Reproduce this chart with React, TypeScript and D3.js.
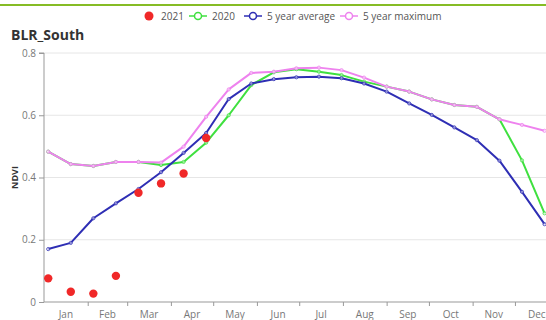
import * as React from "react";
import * as d3 from "d3";

// 16-day composite dates (2021 calendar)
const dates = [
    "2021-01-04", "2021-01-20", "2021-02-05", "2021-02-21", "2021-03-09", "2021-03-25",
    "2021-04-10", "2021-04-26", "2021-05-12", "2021-05-28", "2021-06-13", "2021-06-29",
    "2021-07-15", "2021-07-31", "2021-08-16", "2021-09-01", "2021-09-17", "2021-10-03",
    "2021-10-19", "2021-11-04", "2021-11-20", "2021-12-06", "2021-12-22",
];

const ndvi2021 = [0.076, 0.033, 0.027, 0.084, 0.351, 0.381, 0.413, 0.527];

const ndvi2020 = [
    0.483, 0.443, 0.437, 0.45, 0.45, 0.44, 0.45, 0.512, 0.6, 0.697, 0.738, 0.748,
    0.74, 0.729, 0.708, 0.692, 0.676, 0.651, 0.633, 0.627, 0.587, 0.455, 0.285,
];

const avg5 = [
    0.17, 0.19, 0.269, 0.317, 0.363, 0.417, 0.479, 0.543, 0.652, 0.702, 0.716, 0.722,
    0.724, 0.719, 0.702, 0.676, 0.638, 0.601, 0.561, 0.52, 0.454, 0.354, 0.25,
];

const max5 = [
    0.483, 0.443, 0.437, 0.45, 0.45, 0.448, 0.499, 0.595, 0.683, 0.736, 0.74, 0.751,
    0.753, 0.745, 0.721, 0.692, 0.676, 0.651, 0.633, 0.627, 0.587, 0.569, 0.55,
];

const monthLabels = ["Jan", "Feb", "Mar", "Apr", "May", "Jun", "Jul", "Aug", "Sep", "Oct", "Nov", "Dec"];
const yTicks = [0, 0.2, 0.4, 0.6, 0.8];

const COLORS = {
    y2021: "#f02828",
    y2020: "#3fe03f",
    avg: "#2e2eb4",
    max: "#ee82ee",
};

const FONT = "'Open Sans', 'DejaVu Sans', sans-serif";

const App: React.FC = () => {
    const svgRef = React.useRef<SVGSVGElement | null>(null);

    React.useEffect(() => {
        if (!svgRef.current) return;
        const svg = d3.select(svgRef.current);
        svg.selectAll("*").remove();

        const width = 546;
        const left = 44;
        const top = 53;
        const bottom = 302;
        const parse = d3.timeParse("%Y-%m-%d");
        const xDates = dates.map(d => parse(d)!);

        const x = d3.scaleTime()
            .domain([new Date(2021, 0, 1), new Date(2022, 0, 1)])
            .range([left, left + 365 * 1.41]);

        const y = d3.scaleLinear()
            .domain([0, 0.8])
            .range([bottom, top]);

        // top green rule
        svg.append("rect")
            .attr("x", 0).attr("y", 4)
            .attr("width", width).attr("height", 2)
            .attr("fill", "#86bc25");

        // title
        svg.append("text")
            .attr("x", 11).attr("y", 40)
            .attr("font-family", FONT)
            .attr("font-size", 14)
            .attr("font-weight", "bold")
            .attr("fill", "#333")
            .text("BLR_South");

        // gridlines
        svg.append("g")
            .selectAll("line")
            .data(yTicks.filter(t => t > 0))
            .enter().append("line")
            .attr("x1", left).attr("x2", width)
            .attr("y1", d => y(d)).attr("y2", d => y(d))
            .attr("stroke", "#e6e6e6");

        // y axis
        const yAxis = svg.append("g")
            .attr("transform", `translate(${left},0)`)
            .call(d3.axisLeft(y).tickValues(yTicks).tickSize(5).tickPadding(3)
                .tickFormat(d => (d === 0 ? "0" : d3.format(".1f")(d as number))));
        yAxis.select(".domain").attr("stroke", "#999").attr("d", `M-5,${top}H0V${bottom}`);
        yAxis.selectAll(".tick line").attr("stroke", "#999");
        yAxis.selectAll("text").attr("fill", "#777").attr("font-size", 10).attr("font-family", FONT);

        // x axis
        const xAxis = svg.append("g")
            .attr("transform", `translate(0,${bottom})`)
            .call(d3.axisBottom(x).ticks(d3.timeMonth.every(1)).tickSize(4).tickFormat(() => ""));
        xAxis.select(".domain").attr("stroke", "#999").attr("d", `M${left},0H${width}`);
        xAxis.selectAll(".tick line").attr("stroke", "#999");
        xAxis.selectAll(".tick").filter((d: any) => d.getMonth() === 0 && d.getFullYear() === 2021).remove();

        const months = d3.timeMonth.range(new Date(2021, 0, 1), new Date(2022, 0, 1));
        svg.append("g")
            .selectAll("text")
            .data(months)
            .enter().append("text")
            .attr("x", d => (x(d) + x(d3.timeMonth.offset(d, 1))) / 2)
            .attr("y", bottom + 16)
            .attr("text-anchor", "middle")
            .attr("font-family", FONT)
            .attr("font-size", 10)
            .attr("fill", "#777")
            .text((d, i) => monthLabels[i]);

        // y label
        svg.append("text")
            .attr("transform", `translate(18,${(top + bottom) / 2}) rotate(-90)`)
            .attr("text-anchor", "middle")
            .attr("font-family", FONT)
            .attr("font-size", 9)
            .attr("font-weight", "bold")
            .attr("fill", "#333")
            .text("NDVI");

        const line = d3.line<number>()
            .x((d, i) => x(xDates[i]))
            .y(d => y(d));

        const lineSeries = [
            { values: ndvi2020, color: COLORS.y2020 },
            { values: avg5, color: COLORS.avg },
            { values: max5, color: COLORS.max },
        ];

        lineSeries.forEach(s => {
            const g = svg.append("g");
            g.append("path")
                .datum(s.values)
                .attr("d", line)
                .attr("fill", "none")
                .attr("stroke", s.color)
                .attr("stroke-width", 2)
                .attr("stroke-linejoin", "round");
            g.selectAll("circle")
                .data(s.values)
                .enter().append("circle")
                .attr("cx", (d, i) => x(xDates[i]))
                .attr("cy", d => y(d))
                .attr("r", 1.6)
                .attr("fill", "#fff")
                .attr("fill-opacity", 0.45)
                .attr("stroke", s.color)
                .attr("stroke-width", 0.8);
        });

        svg.append("g")
            .selectAll("circle")
            .data(ndvi2021)
            .enter().append("circle")
            .attr("cx", (d, i) => x(xDates[i]))
            .attr("cy", d => y(d))
            .attr("r", 4.2)
            .attr("fill", COLORS.y2021);

        // legend
        const legendItems = [
            { name: "2021", color: COLORS.y2021, dot: true, x: 149 },
            { name: "2020", color: COLORS.y2020, dot: false, x: 198 },
            { name: "5 year average", color: COLORS.avg, dot: false, x: 253 },
            { name: "5 year maximum", color: COLORS.max, dot: false, x: 349 },
        ];
        const legend = svg.append("g").attr("transform", "translate(0,16)");
        legendItems.forEach(item => {
            const g = legend.append("g").attr("transform", `translate(${item.x},0)`);
            if (item.dot) {
                g.append("circle").attr("r", 4.5).attr("fill", item.color);
            } else {
                g.append("line")
                    .attr("x1", -9).attr("x2", 9)
                    .attr("stroke", item.color).attr("stroke-width", 1.5);
                g.append("circle")
                    .attr("r", 3.5)
                    .attr("fill", "#fff")
                    .attr("stroke", item.color)
                    .attr("stroke-width", 1.5);
            }
            g.append("text")
                .attr("x", item.dot ? 12 : 14)
                .attr("y", 3.5)
                .attr("font-family", FONT)
                .attr("font-size", 10)
                .attr("fill", "#555")
                .text(item.name);
        });
    }, []);

    return (
        <div style={{ position: "fixed", left: 0, top: 0 }}>
            <svg ref={svgRef} width={546} height={320} style={{ display: "block", background: "#fff" }} />
        </div>
    );
};

export default App;
